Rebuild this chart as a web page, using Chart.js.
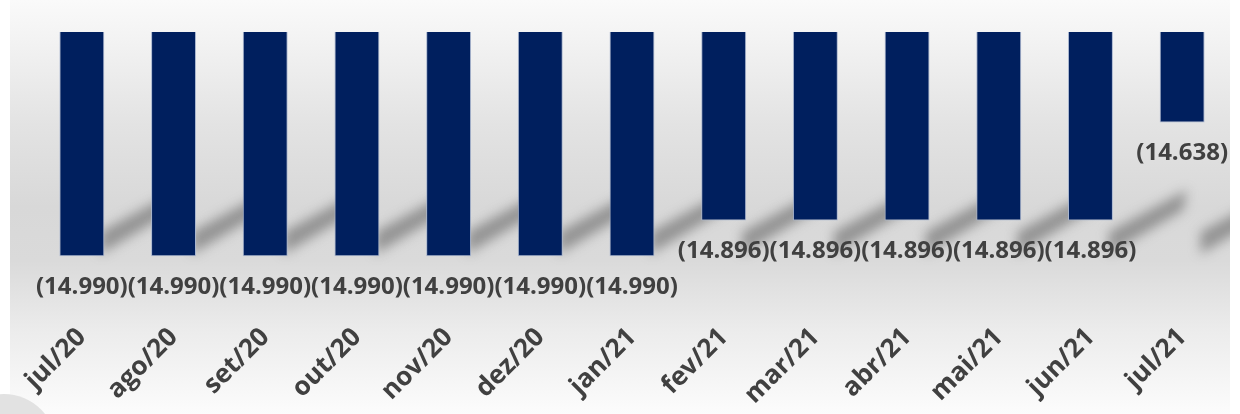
<!DOCTYPE html>
<html>
<head>
<meta charset="utf-8">
<script src="https://cdn.jsdelivr.net/npm/chart.js@4.4.1/dist/chart.umd.min.js"></script>
<style>
  html, body { margin: 0; padding: 0; background: #fff; }
  #wrap { width: 1240px; height: 414px; }
</style>
</head>
<body>
<div id="wrap"><canvas id="chart" width="1240" height="414"></canvas></div>
<script>
// data (values in R$ mil, negative)
const months = ['jul/20', 'ago/20', 'set/20', 'out/20', 'nov/20', 'dez/20', 'jan/21',
                'fev/21', 'mar/21', 'abr/21', 'mai/21', 'jun/21', 'jul/21'];
const values = [-14990, -14990, -14990, -14990, -14990, -14990, -14990,
                -14896, -14896, -14896, -14896, -14896, -14638];
const axisMin = -15000;
const axisMax = -14400;

function formatValue(v) {
    // pt-BR style: thousands with a dot, negatives in parentheses
    const s = Math.abs(v).toString().replace(/\B(?=(\d{3})+(?!\d))/g, '.');
    return v < 0 ? '(' + s + ')' : s;
}

// gray gradient panel behind the chart
const backgroundPlugin = {
    id: 'panelBackground',
    beforeDraw(chart) {
        const ctx = chart.ctx;
        ctx.save();
        const g = ctx.createLinearGradient(0, 0, 0, chart.height);
        g.addColorStop(0, '#fafafa');
        g.addColorStop(0.3, '#e3e3e3');
        g.addColorStop(0.5, '#d8d8d8');
        g.addColorStop(0.63, '#dadada');
        g.addColorStop(0.8, '#ececec');
        g.addColorStop(1, '#fcfcfc');
        ctx.fillStyle = g;
        ctx.fillRect(10, 0, 1220, chart.height);
        // soft circle in the lower left corner
        ctx.fillStyle = '#e2e2e2';
        ctx.beginPath();
        ctx.arc(4, 446, 52, 0, Math.PI * 2);
        ctx.fill();
        ctx.restore();
    }
};

// blurred floor shadows behind the bars
const shadowPlugin = {
    id: 'barShadows',
    beforeDatasetsDraw(chart) {
        const ctx = chart.ctx;
        const meta = chart.getDatasetMeta(0);
        const bottom = chart.chartArea.bottom;
        ctx.save();
        ctx.beginPath();
        ctx.rect(10, 0, 1220, chart.height);
        ctx.clip();
        ctx.filter = 'blur(6px)';
        ctx.fillStyle = 'rgba(100,100,100,0.6)';
        meta.data.forEach(bar => {
            const xr = bar.x + bar.width / 2;
            ctx.beginPath();
            ctx.moveTo(xr - 4, bottom - 6);
            ctx.lineTo(xr + 70, bottom - 50);
            ctx.lineTo(xr + 74, bottom - 70);
            ctx.lineTo(xr - 4, bottom - 28);
            ctx.closePath();
            ctx.fill();
        });
        ctx.restore();
    }
};

// value labels under each bar end
const valueLabelPlugin = {
    id: 'valueLabels',
    afterDatasetsDraw(chart) {
        const ctx = chart.ctx;
        const meta = chart.getDatasetMeta(0);
        ctx.save();
        ctx.font = 'bold 24px "Open Sans"';
        ctx.fillStyle = '#404040';
        ctx.textAlign = 'center';
        ctx.textBaseline = 'middle';
        meta.data.forEach((bar, i) => {
            ctx.fillText(formatValue(values[i]), bar.x, bar.y + 31);
        });
        ctx.restore();
    }
};

new Chart(document.getElementById('chart'), {
    type: 'bar',
    data: {
        labels: months,
        datasets: [{
            data: values,
            backgroundColor: '#001f5e',
            borderColor: '#a9b6cf',
            borderWidth: 1,
            barPercentage: 0.49,
            categoryPercentage: 1
        }]
    },
    options: {
        responsive: false,
        animation: false,
        devicePixelRatio: 1,
        layout: { padding: { left: 36, right: 12, top: 32, bottom: 0 } },
        plugins: {
            legend: { display: false },
            tooltip: { enabled: false }
        },
        scales: {
            x: {
                grid: { display: false },
                border: { display: false },
                afterFit(scale) {
                    scale.height = 154;
                    // keep the rotated labels from pushing the plot area in
                    scale.paddingLeft = 0;
                    scale.paddingRight = 0;
                },
                ticks: {
                    autoSkip: false,
                    minRotation: 45,
                    maxRotation: 45,
                    padding: 54,
                    color: '#404040',
                    font: { family: '"Open Sans"', size: 26, weight: 'bold' }
                }
            },
            y: {
                display: false,
                min: axisMin,
                max: axisMax
            }
        }
    },
    plugins: [backgroundPlugin, shadowPlugin, valueLabelPlugin]
});
</script>
</body>
</html>
